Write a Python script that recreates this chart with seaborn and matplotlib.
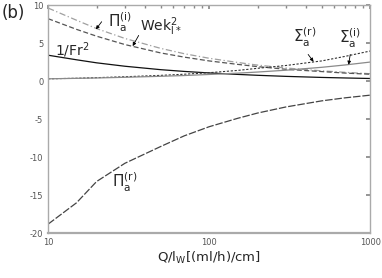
import matplotlib
matplotlib.use("Agg")
import matplotlib.pyplot as plt
import seaborn as sns
import pandas as pd

sns.set_theme(style="white")
plt.rcParams['font.family'] = ['DejaVu Sans']
plt.rcParams['mathtext.fontset'] = 'dejavusans'
plt.rcParams['axes.unicode_minus'] = False

Q = [10, 15, 20, 30, 50, 70, 100, 150, 200, 300, 500, 700, 1000]
pi_i = [9.6, 8.0, 6.9, 5.6, 4.3, 3.6, 3.0, 2.45, 2.1, 1.72, 1.35, 1.15, 0.97]
wek = [8.2, 6.8, 5.9, 4.8, 3.7, 3.15, 2.65, 2.2, 1.9, 1.55, 1.25, 1.05, 0.9]
inv_fr2 = [3.4, 2.8, 2.4, 1.95, 1.5, 1.27, 1.07, 0.88, 0.76, 0.62, 0.48, 0.41, 0.34]
sigma_r = [0.3, 0.37, 0.45, 0.57, 0.75, 0.9, 1.1, 1.4, 1.68, 2.05, 2.65, 3.25, 3.95]
sigma_i = [0.3, 0.36, 0.41, 0.5, 0.63, 0.73, 0.87, 1.04, 1.19, 1.43, 1.81, 2.12, 2.5]
pi_r = [-18.8, -16.0, -13.2, -10.8, -8.6, -7.2, -6.0, -4.9, -4.2, -3.4, -2.6, -2.2, -1.85]

series = {
    "pi_i": (pi_i, dict(color="#a0a0a0", linestyle=(0, (5, 2, 1, 2)), linewidth=0.9)),
    "wek": (wek, dict(color="#555555", linestyle=(0, (4, 2)), linewidth=0.9)),
    "fr": (inv_fr2, dict(color="#111111", linestyle="-", linewidth=0.9)),
    "sig_r": (sigma_r, dict(color="#333333", linestyle=(0, (2, 1.5)), linewidth=0.8)),
    "sig_i": (sigma_i, dict(color="#8a8a8a", linestyle="-", linewidth=0.9)),
    "pi_r": (pi_r, dict(color="#444444", linestyle=(0, (6, 1.5)), linewidth=0.9)),
}

fig = plt.figure(figsize=(3.82, 2.78), dpi=100)
ax = fig.add_axes([0.126, 0.161, 0.843, 0.821])

for name, (vals, kw) in series.items():
    df = pd.DataFrame({"Q": Q, "v": vals})
    sns.lineplot(data=df, x="Q", y="v", ax=ax, **kw)

ax.set_xscale("log")
ax.set_xlim(10, 1000)
ax.set_ylim(-20, 10)
ax.set_yticks([-20, -15, -10, -5, 0, 5, 10])
ax.set_xticks([10, 100, 1000])
ax.set_xticklabels(["10", "100", "1000"])
ax.tick_params(which="both", direction="in", top=True, right=True,
               labelsize=6, colors="#888888", labelcolor="#555555")
ax.tick_params(which="major", length=3)
ax.tick_params(which="minor", length=2)
for s in ax.spines.values():
    s.set_color("#aaaaaa")
    s.set_linewidth(1.0)
ax.spines["bottom"].set_linewidth(1.6)
ax.set_ylabel("")
ax.set_xlabel(r"Q/l$_\mathrm{W}$[(ml/h)/cm]", fontsize=9.5, labelpad=2)

fig.text(0.005, 0.955, "(b)", fontsize=12, ha="left", va="center")

arrow = dict(arrowstyle="-|>", lw=0.6, color="black", mutation_scale=5,
             shrinkA=0, shrinkB=0)

ax.text(28, 7.7, r"$\Pi_\mathrm{a}^{(\mathrm{i})}$", fontsize=11, ha="center", va="center")
ax.annotate("", xy=(19.8, 6.8), xytext=(21.5, 7.8), arrowprops=arrow)
ax.text(50, 7.2, r"Wek$_\mathrm{l*}^{2}$", fontsize=10, ha="center", va="center")
ax.annotate("", xy=(33.5, 4.6), xytext=(36.5, 6.0), arrowprops=arrow)
ax.text(11, 4.1, r"1/Fr$^2$", fontsize=10, ha="left", va="center")
ax.text(390, 5.7, r"$\Sigma_\mathrm{a}^{(\mathrm{r})}$", fontsize=11, ha="center", va="center")
ax.annotate("", xy=(445, 2.55), xytext=(412, 3.5), arrowprops=arrow)
ax.text(750, 5.6, r"$\Sigma_\mathrm{a}^{(\mathrm{i})}$", fontsize=11, ha="center", va="center")
ax.annotate("", xy=(735, 2.15), xytext=(752, 3.5), arrowprops=arrow)
ax.text(30, -13.3, r"$\Pi_\mathrm{a}^{(\mathrm{r})}$", fontsize=11, ha="center", va="center")

fig.savefig("out.png", dpi=100)
